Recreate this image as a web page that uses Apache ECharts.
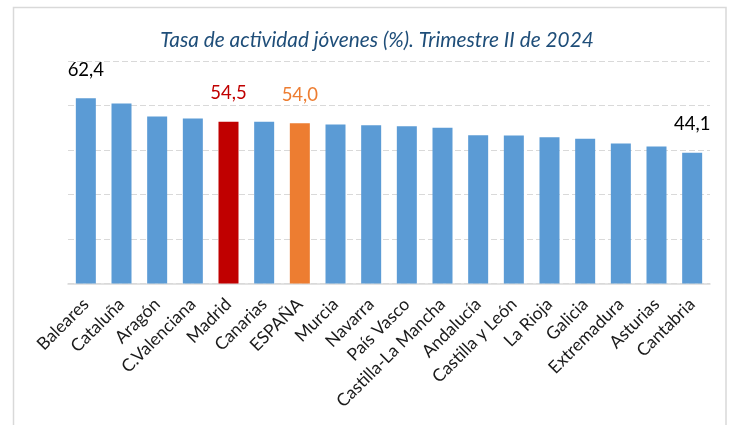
<!DOCTYPE html>
<html>
<head>
<meta charset="utf-8">
<script src="https://cdn.jsdelivr.net/npm/echarts@6/dist/echarts.min.js"></script>
<style>
html,body{margin:0;padding:0;background:#fff;}
#chart{width:729px;height:425px;}
</style>
</head>
<body>
<div id="chart"></div>
<script>
const categories = ["Baleares","Cataluña","Aragón","C.Valenciana","Madrid","Canarias","ESPAÑA","Murcia","Navarra","País Vasco","Castilla-La Mancha","Andalucía","Castilla y León","La Rioja","Galicia","Extremadura","Asturias","Cantabria"];
const values = [62.4,60.7,56.3,55.6,54.5,54.5,54.0,53.6,53.3,53.0,52.5,50.0,49.9,49.3,48.8,47.2,46.2,44.1];
const labeledBars = {"Baleares":"#000000","Madrid":"#C00000","ESPAÑA":"#ED7D31","Cantabria":"#000000"};
const barColors = {"Madrid":"#C00000","ESPAÑA":"#ED7D31"};
const defaultColor = "#5B9BD5";
const titleText = "Tasa de actividad jóvenes (%). Trimestre II de 2024";

const FONT = "Lato";
const data = categories.map((c, i) => {
  const item = { value: values[i], itemStyle: { color: barColors[c] || defaultColor } };
  if (labeledBars[c]) {
    item.label = {
      show: true, position: 'top', distance: 19,
      color: labeledBars[c], fontSize: 18.5, fontFamily: FONT,
      formatter: (p) => p.value.toFixed(1).replace('.', ',')
    };
  }
  return item;
});

const chart = echarts.init(document.getElementById('chart'), null, { renderer: 'canvas' });
chart.setOption({
  animation: false,
  backgroundColor: '#ffffff',
  title: {
    text: titleText, left: 372, top: 25, textAlign: 'center',
    textStyle: { fontFamily: FONT, fontStyle: 'italic', fontWeight: 'normal', fontSize: 20.8, color: '#1F4E79' }
  },
  graphic: [{
    type: 'rect', shape: { x: 13.5, y: 7.5, width: 712.5, height: 500 },
    style: { fill: 'none', stroke: '#D9D9D9', lineWidth: 1.5 }, silent: true, z: -1
  }],
  grid: { left: 68, right: 19, top: 61, bottom: 141.6 },
  xAxis: {
    type: 'category', data: categories,
    axisLine: { lineStyle: { color: '#D9D9D9', width: 1.5 } },
    axisTick: { show: false },
    axisLabel: { rotate: 45, interval: 0, margin: 18, fontFamily: FONT, fontSize: 17.5, color: '#1a1a1a' }
  },
  yAxis: {
    type: 'value', min: 0, max: 75, interval: 15,
    axisLabel: { show: false }, axisLine: { show: false }, axisTick: { show: false },
    splitLine: { lineStyle: { color: '#D9D9D9', type: [6, 3], width: 1.2 } }
  },
  series: [{
    type: 'bar', data: data, barWidth: 20
  }]
});
</script>
</body>
</html>
